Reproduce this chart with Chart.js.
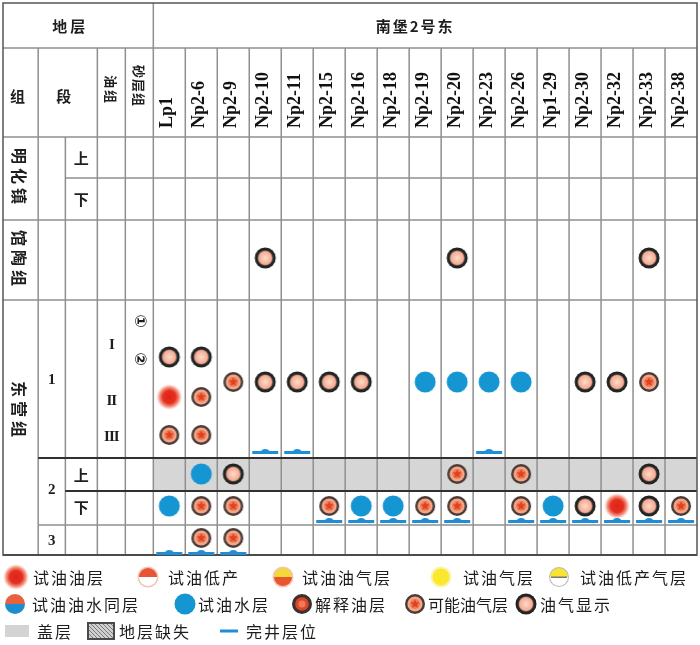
<!DOCTYPE html>
<html>
<head>
<meta charset="utf-8">
<script src="https://cdn.jsdelivr.net/npm/chart.js@4.4.0/dist/chart.umd.min.js"></script>
<style>
  body { margin: 0; background: #fff; width: 700px; height: 645px; position: relative; overflow: hidden; font-family: "Noto Sans CJK SC", sans-serif; }
  #strat { position: absolute; left: 0; top: 0; }
  #legend { position: absolute; left: 0; top: 0; width: 700px; height: 645px; }
  .sym { position: absolute; }
  .txt { position: absolute; font-size: 16px; letter-spacing: 2px; color: #1c1c1c; white-space: nowrap; transform: translateY(-50%); line-height: 1; }
</style>
</head>
<body>
<canvas id="strat" width="700" height="558"></canvas>
<div id="legend"></div>
<script>
// 井名（列）
const wells = ["Lp1", "Np2-6", "Np2-9", "Np2-10", "Np2-11", "Np2-15", "Np2-16", "Np2-18", "Np2-19",
  "Np2-20", "Np2-23", "Np2-26", "Np1-29", "Np2-30", "Np2-32", "Np2-33", "Np2-38"];

// 示意深度（y 轴单位，自表体顶部向下）
const levelNames = ["guantao", "d1a", "d1b", "d1c", "d1d", "d2s", "d2x", "d3", "end1", "end2", "end3"];
const levelDepths = [12.1, 22.0, 24.5, 26.0, 29.8, 33.7, 36.9, 40.1, 31.3, 38.2, 41.4];
const rowEdges = [0, 4.1, 8.3, 16.3, 32.1, 35.4, 38.8, 41.8];

// 地层名称
const formations = ["明化镇", "馆陶组", "东营组"];
const formationDepths = [4.1, 12.3, 27.4];
const members = ["1", "2", "3"];
const memberDepths = [24.3, 35.3, 40.4];
const subMembers = ["上", "下", "上", "下"];
const subMemberDepths = [2.1, 6.2, 33.8, 37.0];
const oilGroups = ["I", "II", "III"];
const oilGroupDepths = [20.8, 26.4, 30.0];
const sandGroups = ["①", "②"];
const sandGroupDepths = [18.4, 22.2];

// 各类显示 [井, 层位]
const oilShow = [["Lp1", "d1a"], ["Np2-6", "d1a"], ["Np2-10", "guantao"], ["Np2-20", "guantao"], ["Np2-33", "guantao"],
  ["Np2-10", "d1b"], ["Np2-11", "d1b"], ["Np2-15", "d1b"], ["Np2-16", "d1b"], ["Np2-30", "d1b"], ["Np2-32", "d1b"],
  ["Np2-9", "d2s"], ["Np2-33", "d2s"], ["Np2-30", "d2x"], ["Np2-33", "d2x"]];
const possibleLayer = [["Np2-9", "d1b"], ["Np2-33", "d1b"], ["Np2-6", "d1c"], ["Lp1", "d1d"], ["Np2-6", "d1d"],
  ["Np2-20", "d2s"], ["Np2-26", "d2s"], ["Np2-6", "d2x"], ["Np2-9", "d2x"], ["Np2-15", "d2x"], ["Np2-19", "d2x"],
  ["Np2-20", "d2x"], ["Np2-26", "d2x"], ["Np2-38", "d2x"], ["Np2-6", "d3"], ["Np2-9", "d3"]];
const testOil = [["Lp1", "d1c"], ["Np2-32", "d2x"]];
const testWater = [["Np2-19", "d1b"], ["Np2-20", "d1b"], ["Np2-23", "d1b"], ["Np2-26", "d1b"], ["Np2-6", "d2s"],
  ["Lp1", "d2x"], ["Np2-16", "d2x"], ["Np2-18", "d2x"], ["Np1-29", "d2x"]];
const completion = [["Np2-10", "end1"], ["Np2-11", "end1"], ["Np2-23", "end1"],
  ["Np2-15", "end2"], ["Np2-16", "end2"], ["Np2-18", "end2"], ["Np2-19", "end2"], ["Np2-20", "end2"],
  ["Np2-26", "end2"], ["Np1-29", "end2"], ["Np2-30", "end2"], ["Np2-32", "end2"], ["Np2-33", "end2"],
  ["Np2-38", "end2"], ["Lp1", "end3"], ["Np2-6", "end3"], ["Np2-9", "end3"]];

const toPts = list => list.map(([w, l]) => ({ x: wells.indexOf(w), y: levelDepths[levelNames.indexOf(l)] }));

// ---- 符号 ----
function makeCanvas(w, h, draw) {
  const c = document.createElement("canvas");
  c.width = w; c.height = h;
  draw(c.getContext("2d"), w / 2, h / 2);
  return c;
}
function circle(ctx, x, y, r, fill) {
  ctx.beginPath(); ctx.arc(x, y, r, 0, Math.PI * 2); ctx.fillStyle = fill; ctx.fill();
}
function halves(ctx, cx, cy, r, top, bottom) {
  ctx.beginPath(); ctx.arc(cx, cy, r, Math.PI, 0); ctx.closePath(); ctx.fillStyle = top; ctx.fill();
  ctx.beginPath(); ctx.arc(cx, cy, r, 0, Math.PI); ctx.closePath(); ctx.fillStyle = bottom; ctx.fill();
}
function star(ctx, cx, cy, ro, ri, fill) {
  ctx.beginPath();
  for (let i = 0; i < 10; i++) {
    const r = i % 2 ? ri : ro, a = -Math.PI / 2 + i * Math.PI / 5;
    ctx.lineTo(cx + r * Math.cos(a), cy + r * Math.sin(a));
  }
  ctx.closePath(); ctx.fillStyle = fill; ctx.fill();
}

const draw = {
  oilShow(ctx, cx, cy) {
    circle(ctx, cx, cy, 10.5, "#232323");
    circle(ctx, cx, cy, 7.8, "#6d5a55");
    const g = ctx.createRadialGradient(cx, cy, 0, cx, cy, 7);
    g.addColorStop(0, "#fddccd"); g.addColorStop(1, "#f3a68c");
    circle(ctx, cx, cy, 7, g);
  },
  possible(ctx, cx, cy) {
    circle(ctx, cx, cy, 10, "#4a3b37");
    circle(ctx, cx, cy, 7.6, "#f1a689");
    circle(ctx, cx, cy, 5, "#ee7a56");
    star(ctx, cx, cy, 4.5, 2.2, "#e2401f");
  },
  testOil(ctx, cx, cy) {
    const g = ctx.createRadialGradient(cx, cy, 0, cx, cy, 13);
    g.addColorStop(0, "#e0221a"); g.addColorStop(0.5, "#e5311f");
    g.addColorStop(0.75, "rgba(236,85,60,0.65)"); g.addColorStop(1, "rgba(245,150,130,0)");
    circle(ctx, cx, cy, 13, g);
  },
  water(ctx, cx, cy) { circle(ctx, cx, cy, 10.5, "#1596d3"); },
  completion(ctx, cx, cy) {
    ctx.fillStyle = "#1e8fd6";
    ctx.fillRect(1, cy + 1, 2 * cx - 2, 3);
    ctx.beginPath(); ctx.ellipse(cx, cy + 1.5, 4, 2.5, 0, Math.PI, 0); ctx.fill();
  },
  lowOil(ctx, cx, cy) {
    circle(ctx, cx, cy, 10.5, "rgba(240,140,110,0.5)");
    halves(ctx, cx, cy, 9, "#e65534", "#ffffff");
  },
  oilGas(ctx, cx, cy) {
    circle(ctx, cx, cy, 10.5, "rgba(240,140,110,0.5)");
    halves(ctx, cx, cy, 9, "#f3d83a", "#e8562e");
  },
  gas(ctx, cx, cy) {
    circle(ctx, cx, cy, 10.5, "rgba(250,235,120,0.6)");
    circle(ctx, cx, cy, 8.5, "#fae82c");
  },
  lowGas(ctx, cx, cy) {
    circle(ctx, cx, cy, 10, "#b9b9b9");
    halves(ctx, cx, cy, 9, "#f8e431", "#ffffff");
    ctx.fillStyle = "#777"; ctx.fillRect(cx - 8, cy - 0.5, 16, 1.5);
  },
  oilWater(ctx, cx, cy) {
    halves(ctx, cx, cy, 10, "#e9603e", "#1b8ed0");
  },
  interp(ctx, cx, cy) {
    circle(ctx, cx, cy, 10, "#3c312e");
    circle(ctx, cx, cy, 6.8, "#d9472b");
    circle(ctx, cx, cy, 3.5, "#f07a55");
  },
  cap(ctx, cx, cy) { ctx.fillStyle = "#d3d3d3"; ctx.fillRect(0, 0, 2 * cx, 2 * cy); },
  missing(ctx, cx, cy) {
    const w = 2 * cx, h = 2 * cy;
    ctx.fillStyle = "#d0d0d0"; ctx.fillRect(0, 0, w, h);
    ctx.strokeStyle = "#7a7a7a"; ctx.lineWidth = 1;
    for (let k = -h; k < w; k += 4) { ctx.beginPath(); ctx.moveTo(k, 0); ctx.lineTo(k + h, h); ctx.stroke(); }
    ctx.strokeStyle = "#4a4a4a"; ctx.lineWidth = 2; ctx.strokeRect(1, 1, w - 2, h - 2);
  },
  line(ctx, cx, cy) { ctx.fillStyle = "#1e8fd6"; ctx.fillRect(0, cy - 1.5, 2 * cx, 3); }
};

const sym = {
  oilShow: makeCanvas(24, 24, draw.oilShow),
  possible: makeCanvas(22, 22, draw.possible),
  testOil: makeCanvas(28, 28, draw.testOil),
  water: makeCanvas(24, 24, draw.water),
  completion: makeCanvas(28, 10, draw.completion)
};

// ---- 表格 ----
const colEdges = [-5.2, -4.1, -3.25, -2.25, -1.375, -0.5];
const wellEdges = wells.map((_, i) => i + 0.5);
const AXIS_H = 134, ROW1_H = 45;

const tablePlugin = {
  id: "stratTable",
  beforeDatasetsDraw(chart) {
    const { ctx, chartArea: a, scales: { x, y } } = chart;
    const X = v => x.getPixelForValue(v), Y = v => y.getPixelForValue(v);
    const top = a.top - AXIS_H, mid = top + ROW1_H;
    const L = X(colEdges[0]), R = X(16.5);
    const grid = "#8f8f8f", dark = "#303030";
    const seg = (x1, y1, x2, y2, c, w) => {
      ctx.beginPath(); ctx.moveTo(x1, y1); ctx.lineTo(x2, y2);
      ctx.strokeStyle = c; ctx.lineWidth = w; ctx.stroke();
    };
    ctx.save();
    // 盖层
    ctx.fillStyle = "#d6d6d6";
    ctx.fillRect(X(-0.5), Y(rowEdges[4]), R - X(-0.5), Y(rowEdges[5]) - Y(rowEdges[4]));

    // 竖线
    colEdges.slice(1).concat(wellEdges.slice(0, -1)).forEach(v => seg(X(v), a.top, X(v), a.bottom, grid, 1.5));
    [colEdges[1], colEdges[3], colEdges[4]].concat(wellEdges.slice(0, -1)).forEach(v => seg(X(v), mid, X(v), a.top, grid, 1.5));
    seg(X(-0.5), top, X(-0.5), a.top, grid, 1.5);

    // 横线
    seg(L, mid, R, mid, grid, 1.5);
    seg(L, a.top, R, a.top, grid, 1.5);
    seg(X(colEdges[2]), Y(rowEdges[1]), R, Y(rowEdges[1]), grid, 1.5);
    seg(L, Y(rowEdges[2]), R, Y(rowEdges[2]), grid, 1.5);
    seg(L, Y(rowEdges[3]), R, Y(rowEdges[3]), grid, 1.5);
    seg(X(colEdges[1]), Y(rowEdges[4]), R, Y(rowEdges[4]), dark, 2);
    seg(X(colEdges[2]), Y(rowEdges[5]), R, Y(rowEdges[5]), dark, 2);
    seg(X(colEdges[1]), Y(rowEdges[6]), R, Y(rowEdges[6]), grid, 1.5);
    seg(L, Y(rowEdges[7]), R, Y(rowEdges[7]), dark, 2);
    ctx.strokeStyle = "#555"; ctx.lineWidth = 1.5;
    ctx.strokeRect(L, top, R - L, a.bottom - top);

    // 文字
    const cx = (i) => (X(colEdges[i]) + X(colEdges[i + 1])) / 2;
    ctx.fillStyle = "#1e1e1e";
    ctx.textAlign = "center"; ctx.textBaseline = "middle";
    const put = (t, px, py, rot, font, spacing) => {
      ctx.save(); ctx.translate(px, py); ctx.rotate(rot || 0);
      ctx.font = font; ctx.letterSpacing = spacing || "0px";
      ctx.fillText(t, 0, 0); ctx.restore();
    };
    const cjk = "bold 15px 'Noto Sans CJK SC'";
    put("地层", (L + X(-0.5)) / 2 - 8, top + ROW1_H / 2 + 1, 0, cjk, "3px");
    put("南堡2号东", (X(-0.5) + R) / 2 - 10, top + ROW1_H / 2 + 1, 0, cjk, "2px");
    put("组", cx(0) - 3, mid + 48, 0, cjk);
    put("段", (X(colEdges[1]) + X(colEdges[3])) / 2 - 4, mid + 48, 0, cjk);
    put("油组", cx(3), mid + 42, Math.PI / 2, "bold 13px 'Noto Sans CJK SC'", "2px");
    put("砂层组", cx(4), mid + 38, Math.PI / 2, "bold 13px 'Noto Sans CJK SC'", "1px");
    formations.forEach((t, i) => put(t, cx(0) - 2, Y(formationDepths[i]), Math.PI / 2, "bold 16px 'Noto Sans CJK SC'", "4px"));
    members.forEach((t, i) => put(t, cx(1), Y(memberDepths[i]), 0, "bold 15px 'Liberation Serif'"));
    subMembers.forEach((t, i) => put(t, cx(2), Y(subMemberDepths[i]), 0, cjk));
    oilGroups.forEach((t, i) => put(t, cx(3), Y(oilGroupDepths[i]), 0, "bold 15px 'Liberation Serif'", "-1px"));
    sandGroups.forEach((t, i) => put(t, cx(4), Y(sandGroupDepths[i]), Math.PI / 2, "bold 16px 'DejaVu Sans'"));
    ctx.restore();
  }
};

const pt = (label, list, style) => ({
  label, data: toPts(list), pointStyle: style, pointRadius: 10, pointHoverRadius: 10, clip: false
});

new Chart(document.getElementById("strat"), {
  type: "scatter",
  data: {
    datasets: [
      pt("完井层位", completion, sym.completion),
      pt("油气显示", oilShow, sym.oilShow),
      pt("可能油气层", possibleLayer, sym.possible),
      pt("试油油层", testOil, sym.testOil),
      pt("试油水层", testWater, sym.water)
    ]
  },
  options: {
    responsive: false,
    animation: false,
    devicePixelRatio: 1,
    layout: { autoPadding: false, padding: { left: 3, right: 3, top: 3, bottom: 3 } },
    plugins: { legend: { display: false }, tooltip: { enabled: false } },
    scales: {
      x: {
        type: "linear", position: "top", min: colEdges[0], max: 16.5,
        afterBuildTicks: s => { s.ticks = wells.map((_, i) => ({ value: i })); },
        afterFit: s => { s.height = AXIS_H; s.paddingLeft = 0; s.paddingRight = 0; },
        ticks: {
          autoSkip: false, minRotation: 90, maxRotation: 90, padding: 9, labelOffset: 20, color: "#111",
          font: { family: "Liberation Serif", size: 18, weight: "bold" },
          callback: v => wells[v]
        },
        grid: { display: false, drawTicks: false },
        border: { display: false }
      },
      y: { type: "linear", reverse: true, min: rowEdges[0], max: rowEdges[rowEdges.length - 1], display: false }
    }
  },
  plugins: [tablePlugin]
});

// ---- 图例 ----
const legendItems = [
  { kind: "testOil", text: "试油油层", cx: 16, cy: 577, tx: 33, w: 28, h: 28 },
  { kind: "lowOil", text: "试油低产", cx: 148, cy: 577, tx: 168, w: 24, h: 24 },
  { kind: "oilGas", text: "试油油气层", cx: 283, cy: 577, tx: 302, w: 24, h: 24 },
  { kind: "gas", text: "试油气层", cx: 441, cy: 577, tx: 463, w: 24, h: 24 },
  { kind: "lowGas", text: "试油低产气层", cx: 559, cy: 577, tx: 580, w: 24, h: 24 },
  { kind: "oilWater", text: "试油油水同层", cx: 15, cy: 604, tx: 32, w: 24, h: 24 },
  { kind: "water", text: "试油水层", cx: 185, cy: 604, tx: 198, w: 24, h: 24 },
  { kind: "interp", text: "解释油层", cx: 302, cy: 604, tx: 315, w: 22, h: 22 },
  { kind: "possible", text: "可能油气层", cx: 415, cy: 604, tx: 428, w: 22, h: 22, sp: "0px" },
  { kind: "oilShow", text: "油气显示", cx: 526, cy: 604, tx: 540, w: 24, h: 24 },
  { kind: "cap", text: "盖层", cx: 17, cy: 631, tx: 37, w: 24, h: 12 },
  { kind: "missing", text: "地层缺失", cx: 101, cy: 631, tx: 119, w: 28, h: 18 },
  { kind: "line", text: "完井层位", cx: 229, cy: 631, tx: 246, w: 18, h: 4 }
];
const legend = document.getElementById("legend");
legendItems.forEach(it => {
  const c = makeCanvas(it.w, it.h, draw[it.kind]);
  c.className = "sym";
  c.style.left = (it.cx - it.w / 2) + "px";
  c.style.top = (it.cy - it.h / 2) + "px";
  legend.appendChild(c);
  const s = document.createElement("span");
  s.className = "txt";
  s.textContent = it.text;
  s.style.left = it.tx + "px";
  s.style.top = it.cy + "px";
  if (it.sp) s.style.letterSpacing = it.sp;
  legend.appendChild(s);
});
</script>
</body>
</html>
